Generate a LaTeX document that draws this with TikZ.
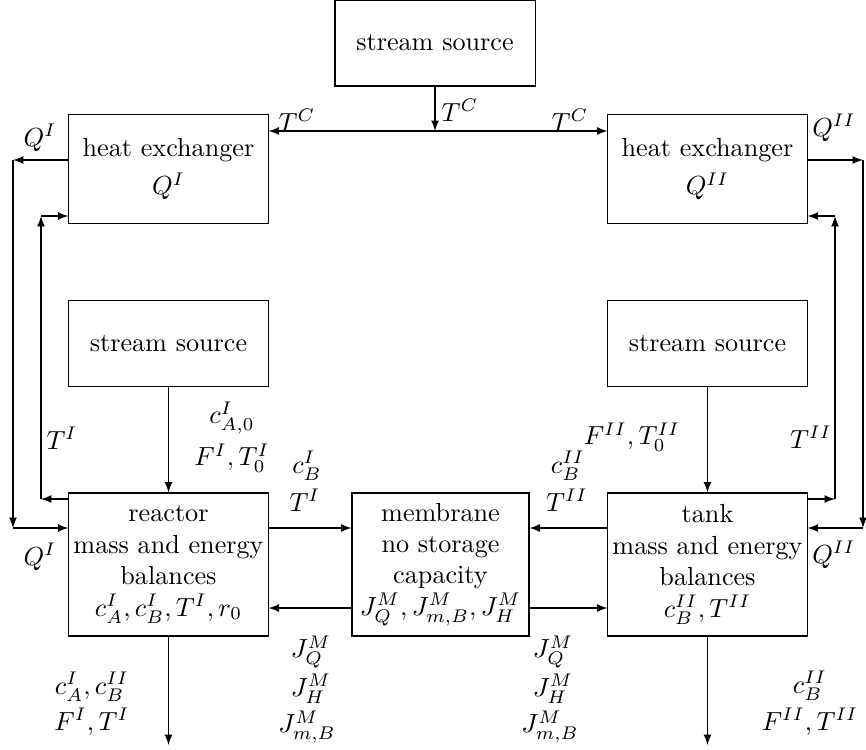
\documentclass[tikz,border=0pt]{standalone}
\usepackage{amsmath, amssymb}
\usepackage{tikz}
\usetikzlibrary{arrows}

\begin{document}
\begin{tikzpicture}[x=0.01343cm,y=-0.01343cm,>=latex]
\useasboundingbox (0,0) rectangle (866,749);

\begin{scope}[every node/.style={draw,align=center,inner sep=0pt,minimum width=2.673cm}]
\node[minimum width=2.686cm,minimum height=1.155cm] (source) at (435,43) {stream source};
\node[minimum height=1.464cm] (exchanger I) at (168.5,169) {heat exchanger\\[2.5pt]$Q^I$};
\node[minimum height=1.464cm] (exchanger II) at (707.5,169) {heat exchanger\\[2.5pt]$Q^{II}$};
\node[minimum height=1.155cm] (source I) at (168.5,343.5) {stream source};
\node[minimum height=1.155cm] (source II) at (707.5,343.5) {stream source};
\node[minimum height=1.920cm] (reactor) at (168.5,564.5) {reactor\\mass and energy\\balances\\$c_A^I,c_B^I,T^I,r_0$};
\node[minimum width=2.377cm,minimum height=1.920cm] (membrane) at (440.5,564.5) {membrane\\no storage\\capacity\\$J_Q^M,J_{m,B}^M,J_H^M$};
\node[minimum height=1.920cm] (tank) at (707.5,564.5) {tank\\mass and energy\\balances\\$c_B^{II},T^{II}$};
\end{scope}

\coordinate (tc) at (435,131);
\coordinate (qIa) at (13,160);
\coordinate (qIb) at (13,528);
\coordinate (tIa) at (41,499);
\coordinate (tIb) at (41,216);
\coordinate (qIIa) at (863,160);
\coordinate (qIIb) at (863,528);
\coordinate (tIIa) at (835,499);
\coordinate (tIIb) at (835,216);
\coordinate (flux) at (440,608);
\coordinate (out I) at (168.5,745);
\coordinate (out II) at (707.5,745);

\begin{scope}
\draw[->] (source) -- (tc);
\draw[->] (tc) -- (exchanger I.east |- tc);
\draw[->] (tc) -- (exchanger II.west |- tc);
\draw[->] (exchanger I.west |- qIa) -- (qIa);
\draw[->] (qIa) -- (qIb);
\draw[->] (qIb) -- (reactor.west |- qIb);
\draw[->] (reactor.west |- tIa) -- (tIa);
\draw[->] (tIa) -- (tIb);
\draw[->] (tIb) -- (exchanger I.west |- tIb);
\draw[->] (exchanger II.east |- qIIa) -- (qIIa);
\draw[->] (qIIa) -- (qIIb);
\draw[->] (qIIb) -- (tank.east |- qIIb);
\draw[->] (tank.east |- tIIa) -- (tIIa);
\draw[->] (tIIa) -- (tIIb);
\draw[->] (tIIb) -- (exchanger II.east |- tIIb);
\draw[->] (source I) -- (reactor);
\draw[->] (source II) -- (tank);
\draw[->] (reactor.east |- qIb) -- (membrane.west |- qIb);
\draw[->] (membrane.west |- flux) -- (reactor.east |- flux);
\draw[->] (tank.west |- qIb) -- (membrane.east |- qIb);
\draw[->] (membrane.east |- flux) -- (tank.west |- flux);
\draw[->] (reactor) -- (out I);
\draw[->] (tank) -- (out II);
\end{scope}

% labels
\node (tc left) at (297,120) {$T^C$};
\node (tc mid) at (460,110) {$T^C$};
\node (tc right) at (570,120) {$T^C$};
\node (q top I) at (40,138) {$Q^I$};
\node (q top II) at (834,128) {$Q^{II}$};
\node (t back I) at (62,438) {$T^I$};
\node (t back II) at (811,437) {$T^{II}$};
\node (q in I) at (40,557) {$Q^I$};
\node (q in II) at (834,555) {$Q^{II}$};
\node (feed I a) at (232,418) {$c_{A,0}^I$};
\node (feed I b) at (232,458) {$F^I,T_0^I$};
\node (feed II) at (632,437) {$F^{II},T_0^{II}$};
\node (to mem I a) at (307,466) {$c_B^I$};
\node (to mem I b) at (305,500) {$T^I$};
\node (to mem II a) at (568,466) {$c_B^{II}$};
\node (to mem II b) at (567,500) {$T^{II}$};
\node (jq I) at (311,652) {$J_Q^M$};
\node (jh I) at (311,689) {$J_H^M$};
\node (jm I) at (307,727) {$J_{m,B}^M$};
\node (jq II) at (553,652) {$J_Q^M$};
\node (jh II) at (553,689) {$J_H^M$};
\node (jm II) at (550,727) {$J_{m,B}^M$};
\node (prod I a) at (92,687) {$c_A^I,c_B^{II}$};
\node (prod I b) at (92,722) {$F^I,T^I$};
\node (prod II a) at (810,686) {$c_B^{II}$};
\node (prod II b) at (810,722) {$F^{II},T^{II}$};

\end{tikzpicture}
\end{document}
